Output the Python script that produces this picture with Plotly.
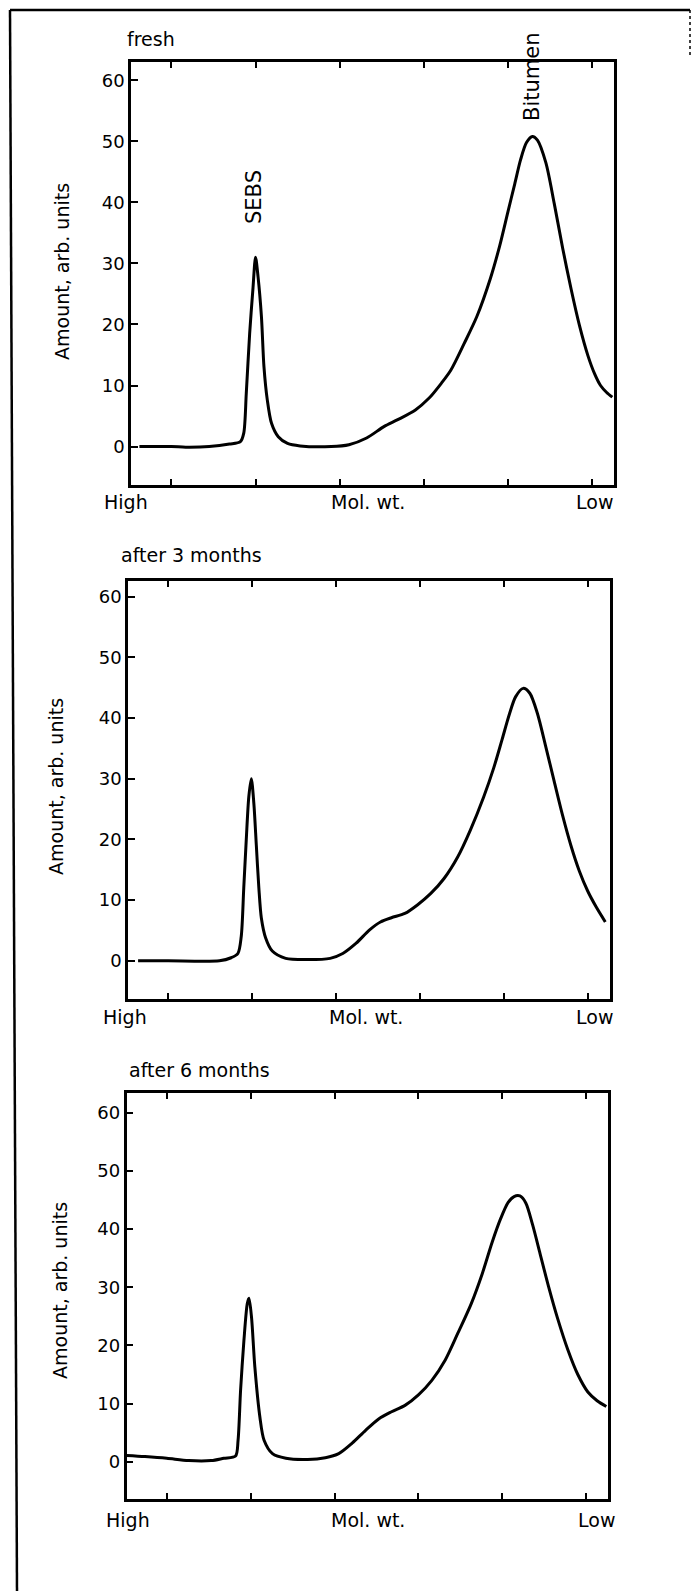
import plotly.graph_objects as go

# ---------------- data (x in tick units: High -> Low molecular weight) ----------------
fresh_x = [0.62, 1.00, 1.17, 1.45, 1.69, 1.82, 1.86, 1.89, 1.93, 1.97, 2.00, 2.03, 2.07, 2.10,
           2.14, 2.19, 2.27, 2.38, 2.53, 2.90, 3.11, 3.32, 3.53, 3.69, 3.90, 4.06, 4.21, 4.32,
           4.48, 4.63, 4.79, 4.90, 5.00, 5.08, 5.15, 5.22, 5.29, 5.35, 5.45, 5.55, 5.65, 5.75,
           5.85, 5.95, 6.03, 6.10, 6.17, 6.24]
fresh_y = [0.0, 0.0, -0.1, 0.0, 0.4, 0.8, 2.2, 8.7, 18.5, 26.0, 31.0, 27.8, 21.3, 13.1,
           7.6, 3.8, 1.6, 0.5, 0.1, 0.0, 0.3, 1.4, 3.3, 4.4, 6.0, 7.9, 10.4, 12.5,
           16.9, 21.3, 27.5, 32.8, 38.5, 43.0, 47.0, 49.8, 50.8, 50.2, 46.5, 39.8, 32.5, 25.8,
           19.8, 14.9, 11.9, 10.0, 8.9, 8.1]

m3_x = [0.64, 1.00, 1.61, 1.75, 1.83, 1.87, 1.90, 1.93, 1.96, 1.99, 2.02, 2.05, 2.08, 2.11,
        2.16, 2.24, 2.40, 2.66, 2.93, 3.08, 3.24, 3.40, 3.53, 3.66, 3.82, 3.97, 4.13, 4.29,
        4.45, 4.60, 4.76, 4.88, 4.98, 5.07, 5.14, 5.23, 5.31, 5.40, 5.50, 5.60, 5.70, 5.80,
        5.90, 6.00, 6.10, 6.21]
m3_y = [0.0, 0.0, 0.0, 0.5, 1.2, 4.0, 12.0, 20.0, 27.0, 30.0, 26.0, 19.0, 12.0, 7.0,
        3.8, 1.6, 0.4, 0.2, 0.4, 1.2, 2.9, 5.1, 6.4, 7.1, 7.8, 9.2, 11.1, 13.6,
        17.1, 21.5, 27.0, 31.8, 36.5, 40.8, 43.5, 44.9, 44.1, 40.8, 35.3, 29.6, 24.0, 19.0,
        14.8, 11.5, 8.9, 6.4]

m6_x = [0.52, 0.74, 1.00, 1.26, 1.53, 1.68, 1.82, 1.85, 1.88, 1.92, 1.96, 1.98, 2.01, 2.05,
        2.11, 2.16, 2.26, 2.42, 2.68, 2.89, 3.05, 3.21, 3.37, 3.53, 3.68, 3.84, 4.00, 4.16,
        4.32, 4.47, 4.63, 4.76, 4.88, 4.98, 5.07, 5.14, 5.21, 5.28, 5.36, 5.45, 5.55, 5.66,
        5.78, 5.90, 6.02, 6.13, 6.24]
m6_y = [1.1, 0.9, 0.6, 0.2, 0.2, 0.6, 1.0, 3.7, 12.3, 20.9, 27.2, 28.1, 24.9, 16.3,
        7.7, 3.7, 1.4, 0.6, 0.4, 0.7, 1.4, 3.2, 5.4, 7.4, 8.6, 9.7, 11.5, 14.0,
        17.5, 22.1, 27.2, 32.3, 37.8, 41.8, 44.6, 45.6, 45.7, 44.5, 40.8, 35.8, 30.2, 24.6,
        19.3, 15.0, 12.0, 10.5, 9.5]

panel_titles = ["fresh", "after 3 months", "after 6 months"]
y_ticks = [0, 10, 20, 30, 40, 50, 60]
x_ticks = [1, 2, 3, 4, 5, 6]
x_labels = ["High", "Mol. wt.", "Low"]
y_title = "Amount, arb. units"
peak_labels = ["SEBS", "Bitumen"]

# ---------------- layout geometry (pixels) ----------------
W, H = 691, 1591
def px(x):
    return x / W
def py(y):
    return 1 - y / H

FONT = "DejaVu Sans"
panels = [
    dict(x=fresh_x, y=fresh_y, left=131, right=614, top=62, bottom=485, yr=[-6.3, 63.0],
         title_x=125, title_y=39, lab_y=502, lab_x=[126, 368, 594], ytit=(62, 272)),
    dict(x=m3_x, y=m3_y, left=128, right=609.5, top=581, bottom=999, yr=[-6.3, 62.6],
         title_x=119, title_y=555, lab_y=1017, lab_x=[124.5, 366, 594], ytit=(56, 787)),
    dict(x=m6_x, y=m6_y, left=126.5, right=608, top=1093, bottom=1499, yr=[-6.4, 63.4],
         title_x=126.5, title_y=1070, lab_y=1520, lab_x=[127.5, 367.5, 596], ytit=(60, 1291)),
]

fig = go.Figure()
annotations = []
layout_axes = {}
for i, p in enumerate(panels):
    n = "" if i == 0 else str(i + 1)
    fig.add_trace(go.Scatter(
        x=p["x"], y=p["y"], mode="lines", xaxis="x" + n, yaxis="y" + n,
        line=dict(color="black", width=3, shape="spline", smoothing=0.8),
        showlegend=False, hoverinfo="skip"))
    layout_axes["xaxis" + n] = dict(
        domain=[px(p["left"]), px(p["right"])], range=[0.52, 6.26], anchor="y" + n,
        showgrid=False, zeroline=False, showline=True, linecolor="black", linewidth=2.5,
        mirror="ticks", ticks="inside", ticklen=6, tickwidth=2, tickcolor="black",
        tickvals=x_ticks, showticklabels=False)
    layout_axes["yaxis" + n] = dict(
        domain=[py(p["bottom"]), py(p["top"])], range=p["yr"], anchor="x" + n,
        showgrid=False, zeroline=False, showline=True, linecolor="black", linewidth=2.5,
        mirror=True, ticks="inside", ticklen=7, tickwidth=2, tickcolor="black",
        tickvals=y_ticks, ticktext=[str(v) for v in y_ticks],
        tickfont=dict(family=FONT, size=18, color="black"))
    annotations.append(dict(text=panel_titles[i], xref="paper", yref="paper",
                            x=px(p["title_x"]), y=py(p["title_y"]), xanchor="left", yanchor="middle",
                            showarrow=False, font=dict(family=FONT, size=19, color="black")))
    for t, lx in zip(x_labels, p["lab_x"]):
        annotations.append(dict(text=t, xref="paper", yref="paper", x=px(lx), y=py(p["lab_y"]),
                                xanchor="center", yanchor="middle", showarrow=False,
                                font=dict(family=FONT, size=19, color="black")))
    annotations.append(dict(text=y_title, xref="paper", yref="paper",
                            x=px(p["ytit"][0]), y=py(p["ytit"][1]), textangle=-90,
                            xanchor="center", yanchor="middle", showarrow=False,
                            font=dict(family=FONT, size=19, color="black")))

# peak labels on the first panel
annotations.append(dict(text=peak_labels[0], xref="paper", yref="paper", x=px(254), y=py(197),
                        textangle=-90, xanchor="center", yanchor="middle", showarrow=False,
                        font=dict(family=FONT, size=21, color="black")))
annotations.append(dict(text=peak_labels[1], xref="paper", yref="paper", x=px(532), y=py(77),
                        textangle=-90, xanchor="center", yanchor="middle", showarrow=False,
                        font=dict(family=FONT, size=21, color="black")))

shapes = [
    dict(type="line", xref="paper", yref="paper", x0=px(10), y0=py(10), x1=px(690), y1=py(10),
         line=dict(color="black", width=2.5)),
    dict(type="line", xref="paper", yref="paper", x0=px(10), y0=py(10), x1=px(17), y1=py(1591),
         line=dict(color="black", width=2.5)),
    dict(type="line", xref="paper", yref="paper", x0=px(690), y0=py(10), x1=px(690), y1=py(58),
         line=dict(color="black", width=1.5, dash="dot")),
]

fig.update_layout(
    width=W, height=H, autosize=False,
    margin=dict(l=0, r=0, t=0, b=0),
    paper_bgcolor="white", plot_bgcolor="white",
    annotations=annotations, shapes=shapes,
    **layout_axes)

fig.write_html("out.html", config={"displayModeBar": False},
               post_script="document.body.style.margin='0';document.body.style.overflow='hidden';")
